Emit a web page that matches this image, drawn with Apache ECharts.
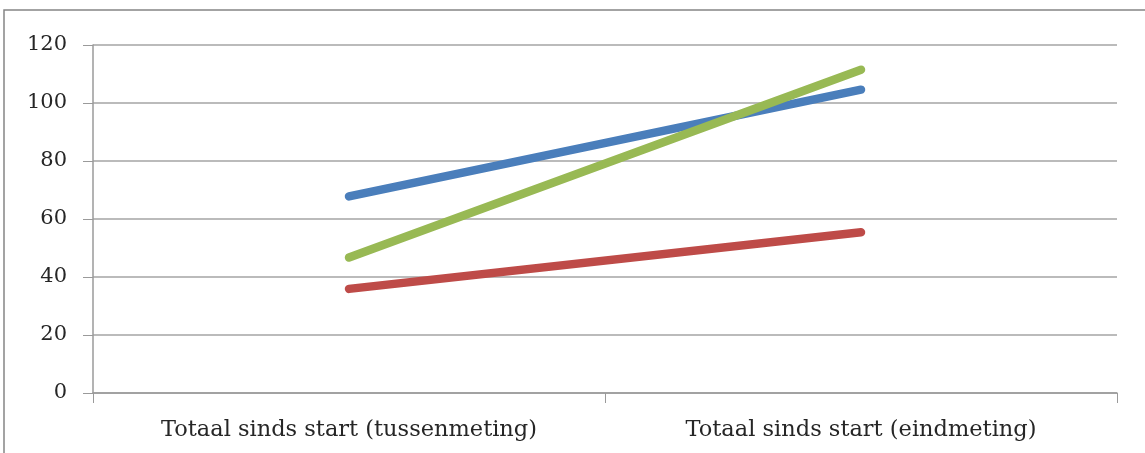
<!DOCTYPE html>
<html>
<head>
<meta charset="utf-8">
<script src="https://cdn.jsdelivr.net/npm/echarts@6/dist/echarts.min.js"></script>
<style>
  html, body { margin: 0; padding: 0; background: #fff; }
  #chart { width: 1145px; height: 453px; }
</style>
</head>
<body>
<div id="chart"></div>
<script>
// Measurement moments
const categories = ['Totaal sinds start (tussenmeting)', 'Totaal sinds start (eindmeting)'];

// Series values per moment
const blueValues = [67.8, 104.6];
const redValues = [35.9, 55.4];
const greenValues = [46.7, 111.5];

// Y-axis range and step
const yMin = 0;
const yMax = 120;
const yStep = 20;

const FONT = 'DejaVu Serif';
const axisGray = '#9a9a9a';

function lineSeries(name, data, color) {
  return {
    name: name,
    type: 'line',
    data: data,
    symbol: 'none',
    lineStyle: { color: color, width: 8.5, cap: 'round' },
    itemStyle: { color: color },
    emphasis: { disabled: true },
    z: 3
  };
}

const chart = echarts.init(document.getElementById('chart'), null, { renderer: 'canvas' });
chart.setOption({
  animation: false,
  backgroundColor: '#ffffff',
  graphic: [
    {
      type: 'polyline',
      shape: { points: [[4, 460], [4, 10], [1150, 10]] },
      style: { stroke: '#858585', lineWidth: 1.5, fill: null },
      silent: true
    }
  ],
  grid: { left: 93, right: 28, top: 45, bottom: 60, containLabel: false },
  xAxis: {
    type: 'category',
    data: categories,
    boundaryGap: true,
    axisLine: { lineStyle: { color: axisGray, width: 1.5 } },
    axisTick: { show: true, length: 10, inside: false, lineStyle: { color: axisGray, width: 1 } },
    axisLabel: { color: '#262626', fontFamily: FONT, fontSize: 22.5, margin: 26 },
    splitLine: { show: false }
  },
  yAxis: {
    type: 'value',
    min: yMin,
    max: yMax,
    interval: yStep,
    axisLine: { show: true, lineStyle: { color: axisGray, width: 1.5 } },
    axisTick: { show: true, length: 10, inside: false, lineStyle: { color: axisGray, width: 1 } },
    axisLabel: { color: '#262626', fontFamily: FONT, fontSize: 21, margin: 26 },
    splitLine: { show: true, lineStyle: { color: '#a5a5a5', width: 1.5 } }
  },
  series: [
    lineSeries('Blauw', blueValues, '#4a7ebb'),
    lineSeries('Rood', redValues, '#be4b48'),
    lineSeries('Groen', greenValues, '#98b954')
  ]
});
</script>
</body>
</html>
